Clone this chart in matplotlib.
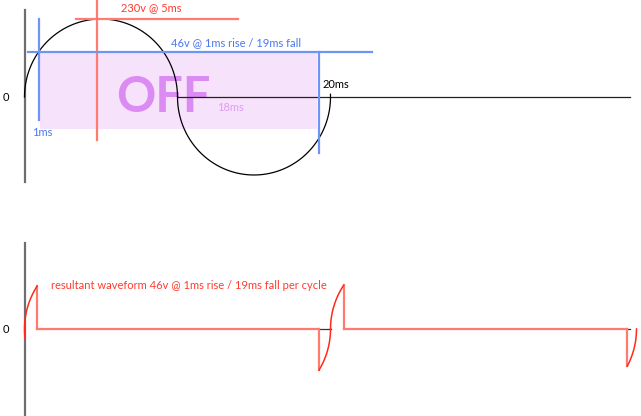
import numpy as np
import matplotlib
matplotlib.use("Agg")
import matplotlib.pyplot as plt
from matplotlib.patches import Rectangle

plt.rcParams['font.family'] = ['Lato', 'DejaVu Sans']

# ---- data (x in ms, y in display volts) ----
half_period = 10.0          # ms per half cycle
v_peak = 230                # peak of mains wave
labels_top = ["230v @ 5ms", "46v @ 1ms rise / 19ms fall", "1ms", "18ms", "20ms", "OFF"]
label_bottom = "resultant waveform 46v @ 1ms rise / 19ms fall per cycle"

peak_line_x = [3.37, 13.95]       # red horizontal at peak
peak_time = 4.74                  # red vertical (5ms)
peak_time_span = [-127, 300]
trigger_level = 133               # blue horizontal (46v level)
trigger_line_x = [0.23, 22.7]
rise_time = 0.95                  # blue vertical (1ms)
rise_span = [-68, 230]
fall_time = 19.25                 # blue vertical (19ms)
fall_span = [-165, 133]
off_box_x = [1.01, 19.12]
off_box_y = [-94, 133]
zero_line_x = [10.0, 39.6]
axis_span_top = [-251, 257]
axis_span_bot = [-262, 254]

# resultant waveform switching times (ms)
on_end = [0.82, 20.85]            # where pulse drops to zero
neg_start = [19.25, 39.4]         # where negative part begins
cycle_end = [20.0, 40.0]

RED_LINE = '#ff7b70'
RED_ARC = '#ff2a1a'
RED_TEXT = '#ff3b2e'
BLUE = '#6f95f4'
BLUE_TEXT = '#4a78ee'
GRAY = '#6e6e6e'
FS = 8

W, H = 641, 416
fig = plt.figure(figsize=(W / 100, H / 100), dpi=100)
px_ms = 15.3
x0_px = 24.5
xlim = (-x0_px / px_ms, (W - x0_px) / px_ms)
k = v_peak / 78.0   # volts per pixel

ax_t = fig.add_axes([0, (H - 190) / H, 1, 190 / H])
ax_t.set_xlim(*xlim)
ax_t.set_ylim(-93 * k, 97 * k)
ax_b = fig.add_axes([0, 0, 1, 190 / H])
ax_b.set_xlim(*xlim)
ax_b.set_ylim(-87 * k, 103 * k)
for a in (ax_t, ax_b):
    a.axis('off')


def circ(center, th1, th2, n=200):
    th = np.deg2rad(np.linspace(th1, th2, n))
    return center + half_period / 2 * np.cos(th), v_peak * np.sin(th)


def th_at(center, t, lower=False):
    c = np.clip((t - center) / (half_period / 2), -1, 1)
    th = np.rad2deg(np.arccos(c))
    return 360 - th if lower else th


# ---- top diagram ----
ax_t.add_patch(Rectangle((off_box_x[0], off_box_y[0]), off_box_x[1] - off_box_x[0],
                         off_box_y[1] - off_box_y[0], facecolor='#f7e2fc',
                         edgecolor='none', zorder=1))
ax_t.text(6.0, -44, labels_top[5], color='#da8cf2', fontsize=35, fontweight='bold',
          ha='left', va='baseline', zorder=2)
ax_t.text(12.58, -41, labels_top[3], color='#dd9ef2', fontsize=FS, ha='left',
          va='baseline', zorder=2)

ax_t.plot([0, 0], axis_span_top, color=GRAY, lw=1.6, zorder=3)
ax_t.plot(zero_line_x, [0, 0], color='#222222', lw=0.9, zorder=4)
x, y = circ(half_period / 2, 0, 180)
ax_t.plot(x, y, color='black', lw=0.9, zorder=4)
x, y = circ(1.5 * half_period, 180, 362)
ax_t.plot(x, y, color='black', lw=0.9, zorder=4)

ax_t.plot(peak_line_x, [v_peak, v_peak], color=RED_LINE, lw=1.6, zorder=5)
ax_t.plot([peak_time, peak_time], peak_time_span, color=RED_LINE, lw=1.6, zorder=5)
ax_t.plot(trigger_line_x, [trigger_level, trigger_level], color=BLUE, lw=1.6, zorder=5)
ax_t.plot([rise_time, rise_time], rise_span, color=BLUE, lw=1.6, zorder=5)
ax_t.plot([fall_time, fall_time], fall_span, color=BLUE, lw=1.6, zorder=5)

ax_t.text(-1.24, -12, "0", color='black', fontsize=FS, ha='center', va='baseline')
ax_t.text(6.31, 253, labels_top[0], color=RED_TEXT, fontsize=FS, ha='left', va='baseline')
ax_t.text(9.58, 150, labels_top[1], color=BLUE_TEXT, fontsize=FS, ha='left', va='baseline')
ax_t.text(0.49, -115, labels_top[2], color=BLUE_TEXT, fontsize=FS, ha='left', va='baseline')
ax_t.text(19.51, 26, labels_top[4], color='black', fontsize=FS, ha='left', va='baseline')

# ---- bottom diagram ----
ax_b.plot([0, 0], axis_span_bot, color=GRAY, lw=1.6, zorder=3)
ax_b.text(-1.24, -12, "0", color='black', fontsize=FS, ha='center', va='baseline')
ax_b.text(1.73, 118, label_bottom, color=RED_TEXT, fontsize=FS, ha='left', va='baseline')

# first rise (0 -> on_end[0])
c0 = half_period / 2
x, y = circ(c0, 187, th_at(c0, on_end[0]))
ax_b.plot(x, y, color=RED_ARC, lw=1.1, zorder=5)

for i in range(2):
    t_on = on_end[i]
    c_up = (cycle_end[i - 1] if i else 0) + half_period / 2
    v_on = v_peak * np.sin(np.deg2rad(th_at(c_up, t_on)))
    # drop after the rise, then flat OFF section
    ax_b.plot([t_on, t_on], [v_on, 0], color=RED_LINE, lw=1.6, zorder=4)
    ax_b.plot([t_on, neg_start[i]], [0, 0], color=RED_LINE, lw=1.6, zorder=4)
    # negative part before cycle end
    c_dn = cycle_end[i] - half_period / 2
    th_s = th_at(c_dn, neg_start[i], lower=True)
    v_neg = v_peak * np.sin(np.deg2rad(th_s))
    ax_b.plot([neg_start[i], neg_start[i]], [0, v_neg], color=RED_LINE, lw=1.6, zorder=4)
    ax_b.plot([neg_start[i], neg_start[i] + 0.15 if i else cycle_end[i]], [0, 0],
              color='#333333', lw=0.9, zorder=3)
    x, y = circ(c_dn, th_s, 360)
    ax_b.plot(x, y, color=RED_ARC, lw=1.1, zorder=5)

# rise after first cycle end
c1 = cycle_end[0] + half_period / 2
x, y = circ(c1, 180, th_at(c1, on_end[1]))
ax_b.plot(x, y, color=RED_ARC, lw=1.1, zorder=5)

fig.savefig('out.png', dpi=100, facecolor='white')
